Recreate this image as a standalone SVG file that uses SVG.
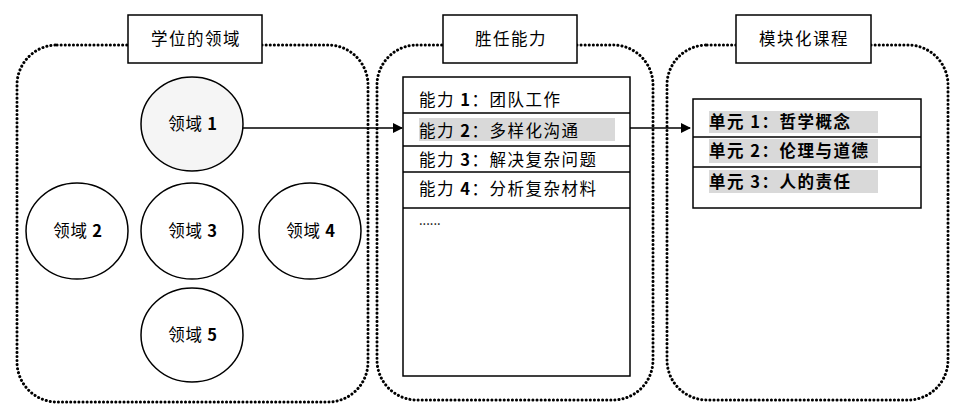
<svg xmlns="http://www.w3.org/2000/svg" width="957" height="414" viewBox="0 0 957 414">
<style>
text{font-family:"Noto Sans CJK SC","Noto Sans",sans-serif;font-size:16.5px;fill:#000;letter-spacing:1.5px}
.c{letter-spacing:0.8px}
.b{font-weight:bold}
.cont{fill:none;stroke:#000;stroke-width:3;stroke-dasharray:0.1 4;stroke-linecap:round}
.title{fill:#fff;stroke:#000;stroke-width:1.5}
.circ{fill:#fff;stroke:#000;stroke-width:1.5}
.box{fill:#fff;stroke:#000;stroke-width:1.5}
.div{stroke:#000;stroke-width:1.5}
.hl{fill:#d9d9d9}
.conn{stroke:#000;stroke-width:1.6;fill:none}
</style>
<defs>
<marker id="ah" markerWidth="10" markerHeight="10" refX="9" refY="5" orient="auto" markerUnits="userSpaceOnUse">
<path d="M0,0 L10,5 L0,10 Z" fill="#000"/>
</marker>
</defs>
<rect width="957" height="414" fill="#fff"/>
<g id="domains">
<rect class="cont" x="17" y="45" width="351" height="357" rx="40"/>
<rect class="title" x="128" y="15" width="134" height="48"/>
<text x="196" y="45" text-anchor="middle">学位的领域</text>
</g>
<g id="domain1"><ellipse class="circ" cx="192" cy="124" rx="51" ry="47" style="fill:#f5f5f5"/><text class="c" x="193" y="130" text-anchor="middle">领域 <tspan class="b">1</tspan></text></g>
<g id="domain2"><ellipse class="circ" cx="77" cy="231" rx="51" ry="48"/><text class="c" x="78" y="237" text-anchor="middle">领域 <tspan class="b">2</tspan></text></g>
<g id="domain3"><ellipse class="circ" cx="192" cy="231" rx="51" ry="48"/><text class="c" x="193" y="237" text-anchor="middle">领域 <tspan class="b">3</tspan></text></g>
<g id="domain4"><ellipse class="circ" cx="310" cy="231" rx="51" ry="48"/><text class="c" x="311" y="237" text-anchor="middle">领域 <tspan class="b">4</tspan></text></g>
<g id="domain5"><ellipse class="circ" cx="192" cy="335" rx="51" ry="47"/><text class="c" x="193" y="341" text-anchor="middle">领域 <tspan class="b">5</tspan></text></g>
<g id="competencies">
<rect class="cont" x="377" y="45" width="276" height="355" rx="40"/>
<rect class="title" x="443" y="15" width="134" height="48"/>
<text x="511" y="45" text-anchor="middle">胜任能力</text>
<rect class="box" x="403" y="77" width="227" height="299"/>
<line class="div" x1="403" y1="113" x2="630" y2="113"/>
<line class="div" x1="403" y1="146" x2="630" y2="146"/>
<line class="div" x1="403" y1="172" x2="630" y2="172"/>
<line class="div" x1="403" y1="208" x2="630" y2="208"/>
<rect class="hl" x="419" y="118" width="196" height="23"/>
<text x="419" y="106">能力 <tspan class="b">1</tspan>：团队工作</text>
<text x="419" y="137">能力 <tspan class="b">2</tspan>：多样化沟通</text>
<text x="419" y="166">能力 <tspan class="b">3</tspan>：解决复杂问题</text>
<text x="419" y="195">能力 <tspan class="b">4</tspan>：分析复杂材料</text>
<text x="419" y="225" style="font-size:13px;letter-spacing:0">......</text>
</g>
<g id="modules">
<rect class="cont" x="667" y="45" width="281" height="355" rx="40"/>
<rect class="title" x="736" y="15" width="135" height="48"/>
<text x="804" y="45" text-anchor="middle">模块化课程</text>
<rect class="box" x="693" y="99" width="228" height="109"/>
<line class="div" x1="693" y1="137" x2="921" y2="137"/>
<line class="div" x1="693" y1="167" x2="921" y2="167"/>
<rect class="hl" x="709" y="111" width="169" height="22"/>
<rect class="hl" x="709" y="139" width="169" height="24"/>
<rect class="hl" x="709" y="170" width="169" height="23"/>
<text class="b" x="709" y="128">单元 1：哲学概念</text>
<text class="b" x="709" y="157">单元 2：伦理与道德</text>
<text class="b" x="709" y="188">单元 3：人的责任</text>
</g>
<g id="connectors">
<line class="conn" x1="243" y1="128" x2="402" y2="128" marker-end="url(#ah)"/>
<line class="conn" x1="630" y1="128" x2="690" y2="128" marker-end="url(#ah)"/>
</g>
</svg>
